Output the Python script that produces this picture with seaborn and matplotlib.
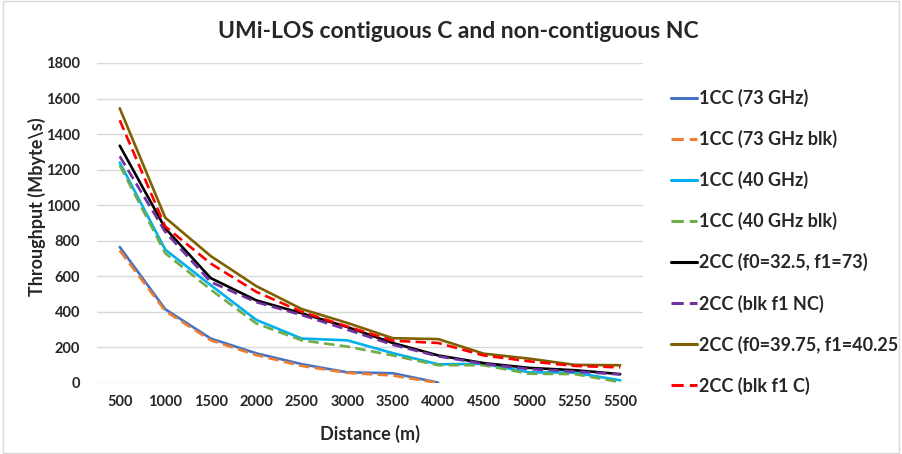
import numpy as np
import pandas as pd
import matplotlib
matplotlib.use("Agg")
import matplotlib.pyplot as plt
from matplotlib.lines import Line2D
from matplotlib.patches import Rectangle
from matplotlib.font_manager import FontProperties
import seaborn as sns

# Distances (m) shown as evenly spaced categories
distance = ["500", "1000", "1500", "2000", "2500", "3000",
            "3500", "4000", "4500", "5000", "5250", "5500"]
y_ticks = [0, 200, 400, 600, 800, 1000, 1200, 1400, 1600, 1800]

nan = np.nan
cc1_73 = [765, 415, 250, 167, 106, 60, 55, 2, nan, nan, nan, nan]
cc1_73_blk = [745, 405, 240, 157, 96, 57, 42, 0, nan, nan, nan, nan]
cc1_40 = [1240, 750, 550, 355, 250, 240, 168, 105, 108, 60, 58, 15]
cc1_40_blk = [1225, 730, 525, 335, 240, 205, 155, 100, 100, 52, 50, 5]
cc2_325_73 = [1335, 870, 590, 465, 392, 315, 225, 155, 112, 85, 72, 50]
cc2_blk_nc = [1275, 850, 568, 455, 382, 300, 215, 150, 108, 78, 65, 48]
cc2_3975_4025 = [1545, 930, 714, 545, 416, 338, 252, 247, 165, 137, 102, 100]
cc2_blk_c = [1478, 880, 672, 513, 400, 318, 238, 225, 155, 122, 96, 88]

series_names = ["1CC (73 GHz)", "1CC (73 GHz blk)", "1CC (40 GHz)",
                "1CC (40 GHz blk)", "2CC (f0=32.5, f1=73)", "2CC (blk f1 NC)",
                "2CC (f0=39.75, f1=40.25", "2CC (blk f1 C)"]
series_values = [cc1_73, cc1_73_blk, cc1_40, cc1_40_blk,
                 cc2_325_73, cc2_blk_nc, cc2_3975_4025, cc2_blk_c]
series_colors = ["#4472C4", "#ED7D31", "#00B0F0", "#70AD47",
                 "#000000", "#7030A0", "#7F6000", "#FF0000"]
series_dashed = [False, True, False, True, False, True, False, True]

rows = []
for name, vals in zip(series_names, series_values):
    for d, v in zip(distance, vals):
        rows.append({"Distance": d, "Throughput": v, "Series": name})
df = pd.DataFrame(rows).dropna()

sns.set_theme(style="white")
plt.rcParams["font.family"] = "Lato"

fig = plt.figure(figsize=(9.02, 4.54), dpi=100)
ax = fig.add_axes([97 / 902, 1 - 383 / 454, (643 - 97) / 902, (383 - 63) / 454])

dash_pat = (4, 2)
palette = dict(zip(series_names, series_colors))
dashes = {n: (dash_pat if d else "") for n, d in zip(series_names, series_dashed)}

sns.lineplot(data=df, x="Distance", y="Throughput", hue="Series", style="Series",
             palette=palette, dashes=dashes, hue_order=series_names,
             style_order=series_names, linewidth=1.9, sort=False,
             legend=False, ax=ax, errorbar=None)

tick_font = FontProperties(family="Lato", weight="bold", size=10.5)
label_font = FontProperties(family="Lato", weight="bold", size=13)
legend_font = FontProperties(family="Lato", weight="bold", size=13)
title_font = FontProperties(family="Lato", weight="bold", size=16.5)

ax.set_xlim(-0.5, len(distance) - 0.5)
ax.set_ylim(0, 1800)
ax.set_xticks(range(len(distance)), labels=distance, fontproperties=tick_font)
ax.set_yticks(y_ticks, labels=[str(t) for t in y_ticks], fontproperties=tick_font)
ax.grid(axis="y", color="#d9d9d9", linewidth=1.0)
ax.grid(axis="x", visible=False)
ax.set_axisbelow(True)
for s in ax.spines.values():
    s.set_visible(False)
ax.tick_params(axis="x", length=0, pad=9)
ax.tick_params(axis="y", length=0, pad=12)

ax.set_xlabel("Distance (m)", fontproperties=label_font, labelpad=11)
ax.set_ylabel("Throughput (Mbyte\\s)", fontproperties=label_font)
ax.yaxis.set_label_coords(-0.093, 0.55)

fig.text(0.508, 1 - 31 / 454, "UMi-LOS contiguous C and non-contiguous NC",
         ha="center", va="center", fontproperties=title_font)

handles = [Line2D([0], [0], color=c, linewidth=2.2,
                  linestyle=(0, (4, 2)) if d else "-")
           for c, d in zip(series_colors, series_dashed)]
leg = fig.legend(handles, series_names, loc="upper left",
                 bbox_to_anchor=(664 / 902, 1 - 82 / 454), frameon=False,
                 prop=legend_font, handlelength=1.45,
                 handletextpad=0.1, labelspacing=1.27, borderaxespad=0)

fig.patches.append(Rectangle((0.003, 0.003), 0.994, 0.994, transform=fig.transFigure,
                             fill=False, edgecolor="#d9d9d9", linewidth=1.0))

fig.savefig("out.png", dpi=100)
